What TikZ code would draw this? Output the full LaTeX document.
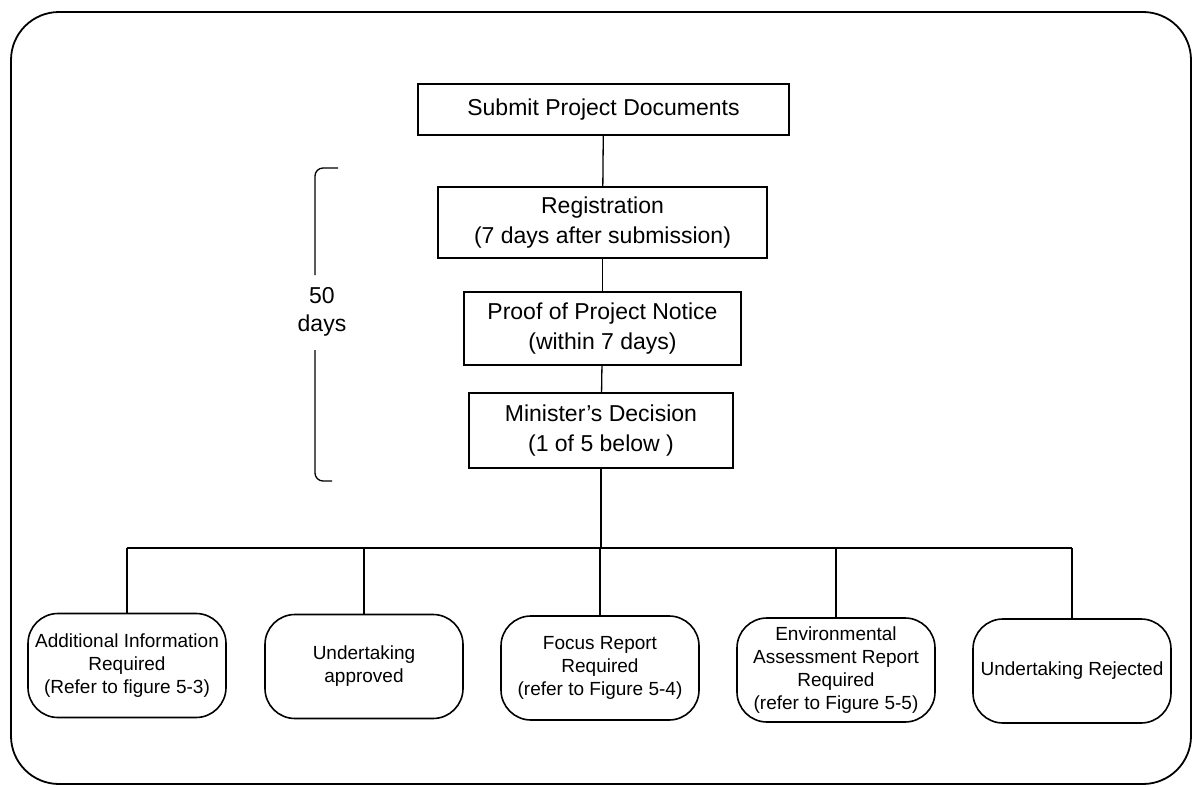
\documentclass[tikz,border=0pt]{standalone}
\usepackage{fontspec}
\setmainfont{Liberation Sans}
\begin{document}
\begin{tikzpicture}[x=1pt,y=-1pt,
  stepbox/.style={draw, line width=1.6pt, rectangle, align=center, inner sep=0pt,
    font=\fontsize{23}{30}\selectfont},
  outcome/.style={draw, line width=1.6pt, rounded corners=30pt, align=center,
    minimum width=198pt, minimum height=104pt, inner sep=0pt,
    font=\fontsize{19}{23}\selectfont},
  link/.style={line width=1.3pt},
  frame/.style={line width=1.8pt, rounded corners=48pt},
  span/.style={align=center, inner sep=0pt, font=\fontsize{23}{28}\selectfont}]

\useasboundingbox (0,0) rectangle (1195,787);

% outer frame
\draw[frame] (11,12) rectangle (1191,784);

% main sequence
\node[stepbox, minimum width=371pt, minimum height=51pt] (submit) at (603.5,109.5)
  {Submit Project Documents};
\node[stepbox, minimum width=329pt, minimum height=71pt] (reg) at (602.5,222.5)
  {Registration\\(7 days after submission)};
\node[stepbox, minimum width=277pt, minimum height=73pt] (proof) at (602.5,328.5)
  {Proof of Project Notice\\(within 7 days)};
\node[stepbox, minimum width=264pt, minimum height=75pt] (minister) at (601,430.5)
  {Minister's Decision\\(1 of 5 below )};

\draw[link] (submit) -- (reg);
\draw[link] (reg) -- (proof);
\draw[link] (proof) -- (minister);

% the five possible outcomes
\node[outcome] (outA) at (127,665.5)
  {Additional Information\\Required\\(Refer to figure 5-3)};
\node[outcome] (outB) at (364,666.5) {Undertaking\\approved};
\node[outcome] (outC) at (600,668) {Focus Report\\Required\\(refer to Figure 5-4)};
\node[outcome] (outD) at (836,670)
  {Environmental\\Assessment Report\\Required\\(refer to Figure 5-5)};
\node[outcome] (outE) at (1072,671) {Undertaking Rejected};

% distribution bus
\coordinate (busA) at (127,548);
\coordinate (busB) at (364,548);
\coordinate (busC) at (600,548);
\coordinate (busD) at (836,548);
\coordinate (busE) at (1072,548);
\draw[link] (minister.south) -- (minister.south |- busC);
\draw[link] (busA) -- (busE);
\foreach \k in {A,B,C,D,E}
  \draw[link] (bus\k) -- (out\k.north);

% time span bracket
\coordinate (brTop) at (338,168);
\coordinate (brBot) at (332,481);
\draw[link, rounded corners=8pt] (brTop) -- (315,168) -- (315,275);
\draw[link, rounded corners=8pt] (315,350) -- (315,481) -- (brBot);
\node[span] (days) at (322,312) {50\\days};

\end{tikzpicture}
\end{document}
